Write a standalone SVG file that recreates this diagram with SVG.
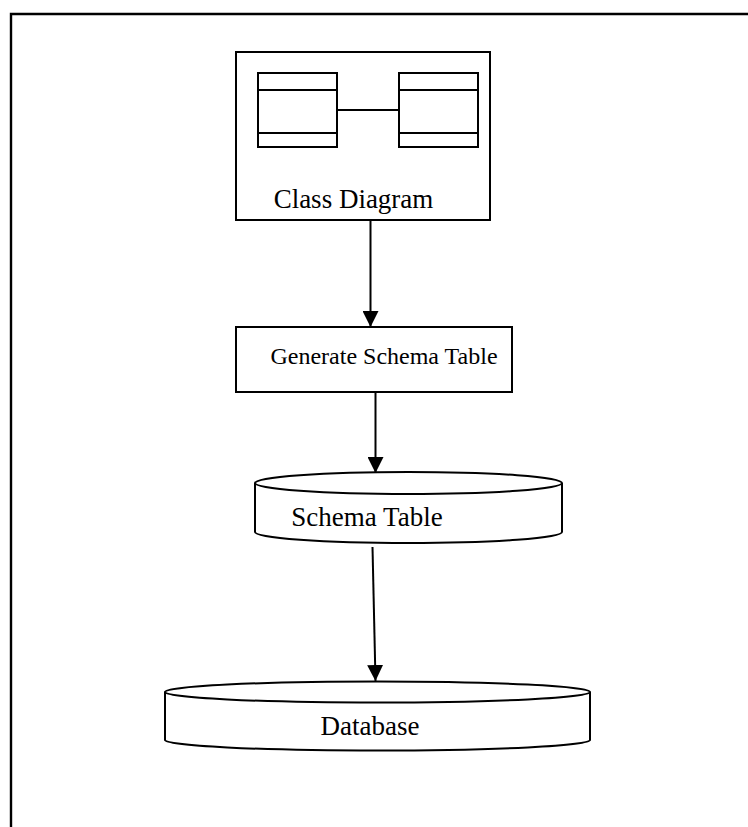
<svg xmlns="http://www.w3.org/2000/svg" width="748" height="827" viewBox="0 0 748 827">
<defs>
<marker id="arr" viewBox="0 0 16 16" refX="16" refY="8" markerWidth="16" markerHeight="16" markerUnits="userSpaceOnUse" orient="auto">
<path d="M0,0 L16,8 L0,16 Z" fill="#000"/>
</marker>
<style>
.ln{fill:none;stroke:#000;stroke-width:2}
.bx{fill:#fff;stroke:#000;stroke-width:2}
.t{font-family:"Liberation Serif","Times New Roman",serif;font-size:27px;fill:#000;text-anchor:middle}
.s{font-size:24px}
</style>
</defs>
<rect width="748" height="827" fill="#fff"/>
<path d="M11,830 L11,14 L750,14" fill="none" stroke="#000" stroke-width="2.4"/>
<g id="class-diagram">
<rect class="bx" x="236" y="52" width="254" height="168"/>
<rect class="bx" x="258" y="73" width="79" height="74"/>
<line class="ln" x1="258" y1="90" x2="337" y2="90"/>
<line class="ln" x1="258" y1="133" x2="337" y2="133"/>
<rect class="bx" x="399" y="73" width="79" height="74"/>
<line class="ln" x1="399" y1="90" x2="478" y2="90"/>
<line class="ln" x1="399" y1="133" x2="478" y2="133"/>
<line class="ln" x1="337" y1="110" x2="399" y2="110"/>
<text class="t" x="353.5" y="208">Class Diagram</text>
</g>
<g id="generate-schema-table">
<rect class="bx" x="236" y="327" width="276" height="65"/>
<text class="t s" x="384" y="364">Generate Schema Table</text>
</g>
<g id="schema-table">
<path class="bx" d="M255,483 L255,532 A153.5,11 0 0 0 562,532 L562,483"/>
<ellipse class="bx" cx="408.5" cy="483" rx="153.5" ry="11"/>
<text class="t" x="367" y="526">Schema Table</text>
</g>
<g id="database">
<path class="bx" d="M165,692 L165,740 A212.5,10.5 0 0 0 590,740 L590,692"/>
<ellipse class="bx" cx="377.5" cy="692" rx="212.5" ry="10.5"/>
<text class="t" x="370" y="735">Database</text>
</g>
<g id="connectors">
<line class="ln" x1="370.5" y1="220" x2="370.5" y2="327" marker-end="url(#arr)"/>
<line class="ln" x1="375.5" y1="392" x2="375.5" y2="473" marker-end="url(#arr)"/>
<line class="ln" x1="372.5" y1="547" x2="375.5" y2="681" marker-end="url(#arr)"/>
</g>
</svg>
